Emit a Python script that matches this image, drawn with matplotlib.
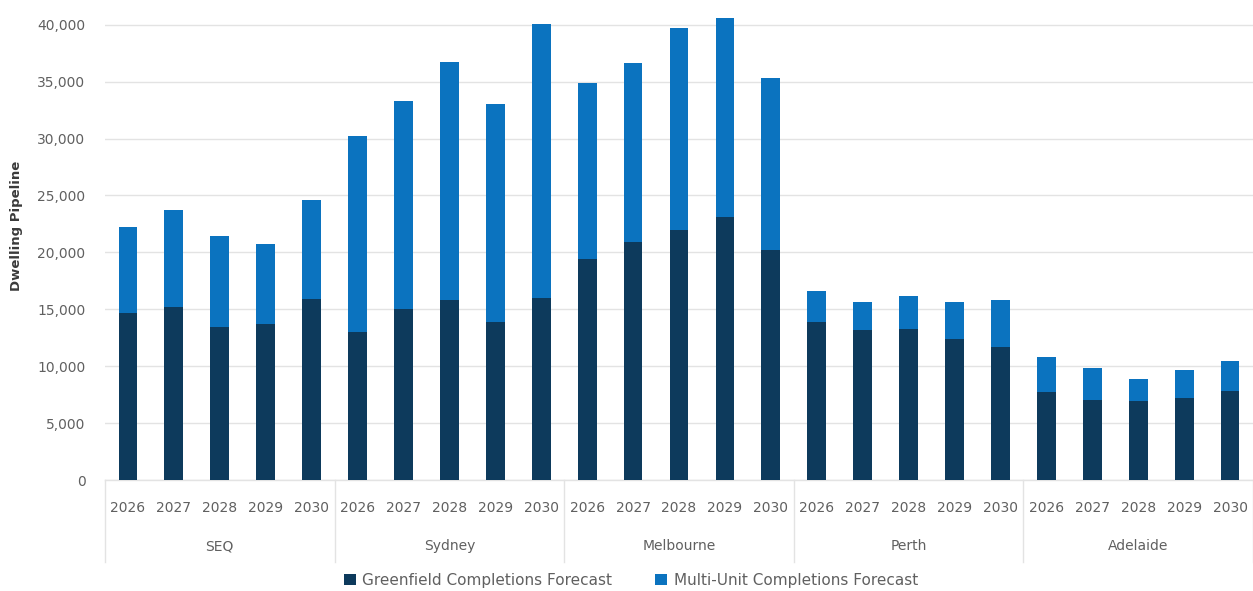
import matplotlib
matplotlib.use("Agg")
import matplotlib.pyplot as plt
from matplotlib.lines import Line2D
from matplotlib.patches import Patch
import matplotlib.transforms as mtransforms
import numpy as np

plt.rcParams['font.family'] = ['DejaVu Sans']

regions = ["SEQ", "Sydney", "Melbourne", "Perth", "Adelaide"]
years = ["2026", "2027", "2028", "2029", "2030"]

# Greenfield completions forecast, per region and year
greenfield = {
    "SEQ":       [14700, 15200, 13400, 13700, 15900],
    "Sydney":    [13000, 15000, 15800, 13900, 16000],
    "Melbourne": [19400, 20900, 22000, 23100, 20200],
    "Perth":     [13900, 13200, 13300, 12400, 11700],
    "Adelaide":  [7700, 7000, 6900, 7200, 7800],
}
# Multi-unit completions forecast (stacked on top of greenfield)
multi_unit = {
    "SEQ":       [7500, 8500, 8000, 7000, 8700],
    "Sydney":    [17200, 18300, 20900, 19100, 24100],
    "Melbourne": [15500, 15700, 17700, 17500, 15100],
    "Perth":     [2700, 2400, 2900, 3200, 4100],
    "Adelaide":  [3100, 2800, 2000, 2500, 2700],
}

dark = "#0D3A5C"
blue = "#0B73BF"
grid_c = "#E3E3E3"
text_c = "#606060"

W, H = 1253, 591
fig = plt.figure(figsize=(W / 100, H / 100), dpi=100)
# axes spans x 105..1253 px, y 2..480 px (from top)
ax = fig.add_axes([105 / W, (H - 480) / H, (1253 - 105) / W, (480 - 2) / H])

n_years = len(years)
g_vals = np.array([v for r in regions for v in greenfield[r]])
m_vals = np.array([v for r in regions for v in multi_unit[r]])
x = np.arange(len(g_vals))

ax.bar(x, g_vals, width=0.41, color=dark, zorder=3)
ax.bar(x, m_vals, width=0.41, bottom=g_vals, color=blue, zorder=3)

ax.set_xlim(-0.5, len(x) - 0.5)
ax.set_ylim(0, 42000)
ax.set_yticks(np.arange(0, 40001, 5000))
ax.set_yticklabels([f"{v:,}" for v in range(0, 40001, 5000)])
ax.yaxis.grid(True, color=grid_c, linewidth=1.0, zorder=0)
ax.set_axisbelow(True)
for s in ["top", "right", "left"]:
    ax.spines[s].set_visible(False)
ax.spines["bottom"].set_color(grid_c)
ax.spines["bottom"].set_linewidth(1.0)
ax.tick_params(axis="y", length=0, pad=14, labelsize=10, labelcolor=text_c)

ax.set_xticks(x)
ax.set_xticklabels(years * len(regions))
ax.tick_params(axis="x", length=0, pad=15, labelsize=10, labelcolor=text_c)

ax.set_ylabel("Dwelling Pipeline", fontsize=9.5, fontweight="bold", color="#3A3A3A")
ax.yaxis.set_label_coords(-82 / (1253 - 105), (480 - 226) / 478)

# group labels and divider lines under the year labels
trans = mtransforms.blended_transform_factory(ax.transData, fig.transFigure)
y_top = (H - 480) / H
y_bot = (H - 562) / H
for i in range(len(regions) + 1):
    xd = i * n_years - 0.5
    fig.add_artist(Line2D([xd, xd], [y_top, y_bot], transform=trans,
                          color=grid_c, linewidth=1.0, clip_on=False))
for i, r in enumerate(regions):
    xc = i * n_years + (n_years - 1) / 2
    fig.text(xc, (H - 546) / H, r, transform=trans, ha="center", va="center",
             fontsize=10, color=text_c)

handles = [Patch(facecolor=dark, edgecolor="none"), Patch(facecolor=blue, edgecolor="none")]
fig.legend(handles, ["Greenfield Completions Forecast", "Multi-Unit Completions Forecast"],
           loc="center", bbox_to_anchor=(631 / W, (H - 580) / H), ncol=2, frameon=False,
           fontsize=11, labelcolor=text_c, handlelength=0.75, handleheight=0.75,
           handletextpad=0.45, columnspacing=2.8)

fig.savefig("out.png", dpi=100)
